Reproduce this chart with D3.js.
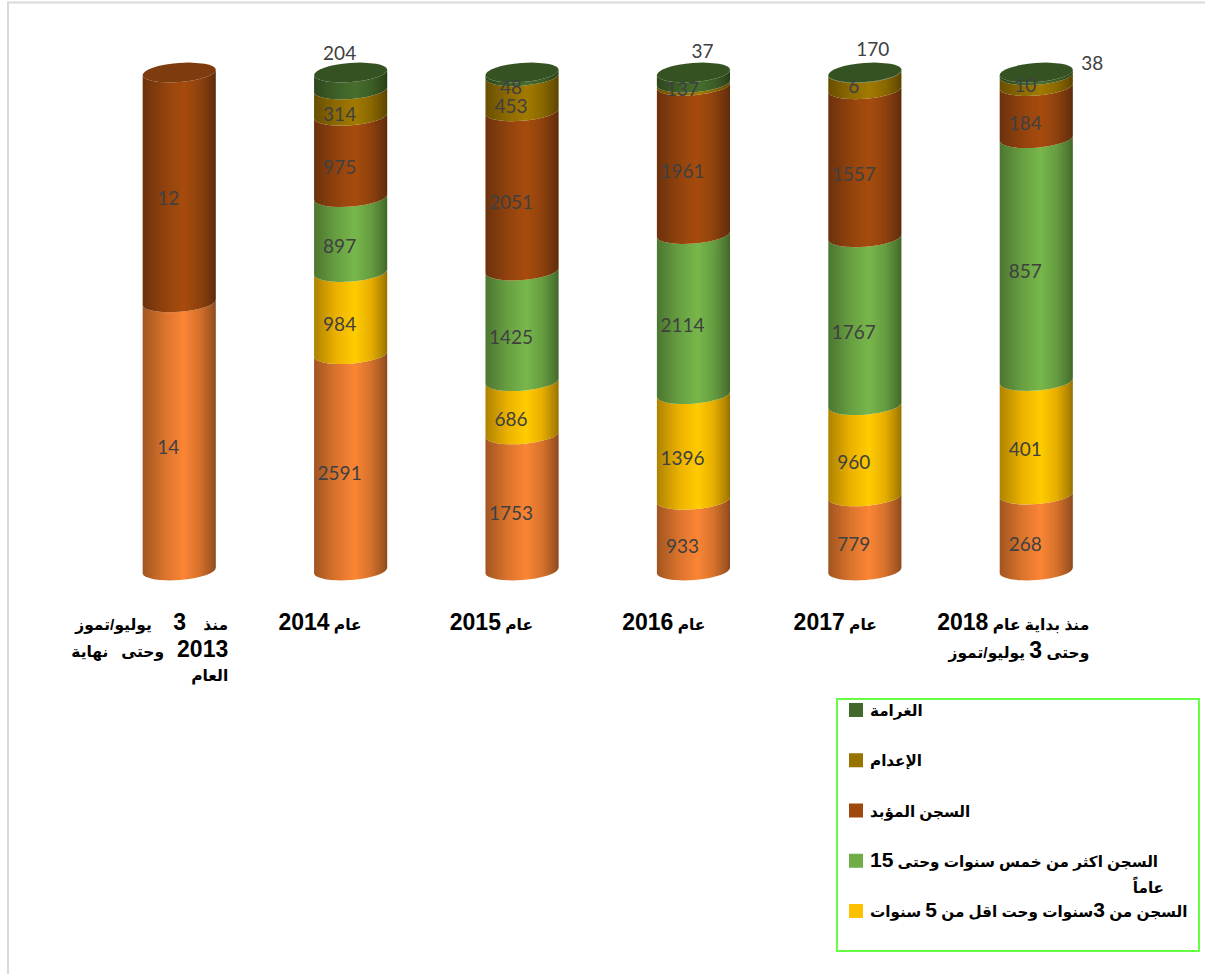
<!DOCTYPE html>
<html><head><meta charset="utf-8">
<script src="https://cdn.jsdelivr.net/npm/d3@7/dist/d3.min.js"></script>
<style>html,body{margin:0;padding:0;background:#fff}svg{display:block}</style>
</head><body><svg id="c" width="1205" height="974"></svg>
<script>
const categories=["c2013","c2014","c2015","c2016","c2017","c2018"];
const seriesKeys=["s1","s2","s3","s4","s5","s6"];
const s1=[14,2591,1753,933,779,268];
const s2=[0,984,686,1396,960,401];
const s3=[0,897,1425,2114,1767,857];
const s4=[12,975,2051,1961,1557,184];
const s5=[0,314,453,37,170,38];
const s6=[0,204,48,137,6,10];
const seriesValues=[s1,s2,s3,s4,s5,s6];
const colors=["#ED7D31","#FFC000","#70AD47","#9E480E","#997300","#43682B"];
const categoryLines=[
 ["منذ    3     يوليو/تموز","2013   وحتى   نهاية","العام"],
 ["عام 2014"],["عام 2015"],["عام 2016"],["عام 2017"],
 ["منذ بداية عام 2018","وحتى 3 يوليو/تموز"]];
const legendItems=[
 {name:"الغرامة",color:5},{name:"الإعدام",color:4},{name:"السجن المؤبد",color:3},
 {name:"السجن اكثر من خمس سنوات وحتى 15",extra:"عاماً",color:2},
 {name:"السجن من 3سنوات وحت اقل من 5 سنوات",color:1}];

const svg=d3.select("#c");
const defs=svg.append("defs");
defs.append("filter").attr("id","soft").attr("x","-10%").attr("width","120%")
  .append("feGaussianBlur").attr("stdDeviation",0.6);
const rows=categories.map((c,i)=>{const r={cat:c};seriesKeys.forEach((k,j)=>r[k]=seriesValues[j][i]);return r;});
const stacked=d3.stack().keys(seriesKeys).offset(d3.stackOffsetExpand)(rows);
const x=d3.scaleBand().domain(categories).range([44.5,1171]).padding(0.572);
const y=d3.scaleLinear().domain([0,1]).range([570.5,72.5]);
const rx=x.bandwidth()/2, ry=9.5, theta=4.5*Math.PI/180;
const dx=rx*Math.cos(theta), dy=rx*Math.sin(theta), rot=-theta*180/Math.PI;

colors.forEach((c,i)=>{
  const g=defs.append("linearGradient").attr("id","g"+i);
  const base=d3.rgb(c);
  [[0,0.68],[0.1,0.76],[0.3,0.92],[0.56,1.06],[0.78,0.9],[0.95,0.68],[1,0.58]].forEach(([o,k])=>{
    g.append("stop").attr("offset",o).attr("stop-color",d3.rgb(base.r*k,base.g*k,base.b*k).formatHex());
  });
});

// frame
svg.append("path").attr("d","M8,974V2.5H1205").attr("fill","none").attr("stroke","#d9d9d9").attr("stroke-width",2);

const marks=svg.append("g").attr("filter","url(#soft)");
// cylinders
stacked.forEach((ser,si)=>{
  ser.forEach((d,i)=>{
    if(d[1]-d[0]<=0) return;
    const cx=x(categories[i])+rx, y0=y(d[0]), y1=y(d[1]);
    const p=`M${cx-dx},${y0+dy}A${rx},${ry},${rot},0,0,${cx+dx},${y0-dy}L${cx+dx},${y1-dy}A${rx},${ry},${rot},0,1,${cx-dx},${y1+dy}Z`;
    marks.append("path").attr("d",p).attr("fill",`url(#g${si})`);
  });
});
// top caps
categories.forEach((c,i)=>{
  const top=[...seriesKeys.keys()].reverse().find(j=>seriesValues[j][i]>0);
  const k=0.8, b=d3.rgb(colors[top]);
  marks.append("ellipse").attr("cx",0).attr("cy",0).attr("rx",rx).attr("ry",ry)
    .attr("transform",`translate(${x(c)+rx},${y(1)}) rotate(${rot})`)
    .attr("fill",d3.rgb(b.r*k,b.g*k,b.b*k).formatHex());
});

// value labels: sit on the front of the cylinder; a few are moved clear as in the source
const labelShift=new Map([["5-1",[0,-39.5]],["5-2",[0,2]],["4-2",[0,1]],
  ["4-3",[20,-44]],["5-4",[0,2]],["4-4",[19,-43.5]],["4-5",[67,-29]]]);
stacked.forEach((ser,si)=>{
  ser.forEach((d,i)=>{
    const v=seriesValues[si][i];
    if(!v) return;
    const sh=labelShift.get(si+"-"+i)||[0,0];
    svg.append("text").attr("x",x(categories[i])+rx-11+sh[0]).attr("y",y((d[0]+d[1])/2)+10.5+sh[1])
      .attr("text-anchor","middle").attr("dominant-baseline","central")
      .attr("font-family","Lato, Carlito, sans-serif").attr("font-size",19).attr("fill","#404040").text(v);
  });
});

// mixed Arabic / digit text
function rich(x0,yy,str,anchor,digitSize,arSize){
  const t=svg.append("text").attr("x",x0).attr("y",yy).attr("direction","rtl").attr("text-anchor",anchor)
    .attr("font-weight","bold").attr("fill","#000").attr("font-family","'Liberation Sans','DejaVu Sans',sans-serif")
    .style("unicode-bidi","embed").style("white-space","pre");
  str.split(/(\d+)/).filter(s=>s.length).forEach(s=>{
    t.append("tspan").attr("font-size",/\d/.test(s)?digitSize:arSize).text(s);
  });
  return t;
}
const catRight=[49,11,11,12,12,53];
const catBase=[[630,657,681],[630],[630],[630],[630],[630,658]];
categoryLines.forEach((lines,i)=>{
  lines.forEach((l,j)=>{
    rich(x(categories[i])+rx+catRight[i],catBase[i][j],l,"start",23,15.5);
  });
});

// legend
svg.append("rect").attr("x",837).attr("y",699).attr("width",362).attr("height",252)
  .attr("fill","none").attr("stroke","#66FF44").attr("stroke-width",2);
const legY=d3.scalePoint().domain(d3.range(legendItems.length)).range([710,911]);
legendItems.forEach((it,i)=>{
  svg.append("rect").attr("x",849).attr("y",legY(i)-7).attr("width",14).attr("height",14).attr("fill",colors[it.color]);
  rich(870,legY(i)+6,it.name,"end",21,15.2);
  if(it.extra) rich(1164,legY(i)+32,it.extra,"start",21,15.2);
});
</script></body></html>
